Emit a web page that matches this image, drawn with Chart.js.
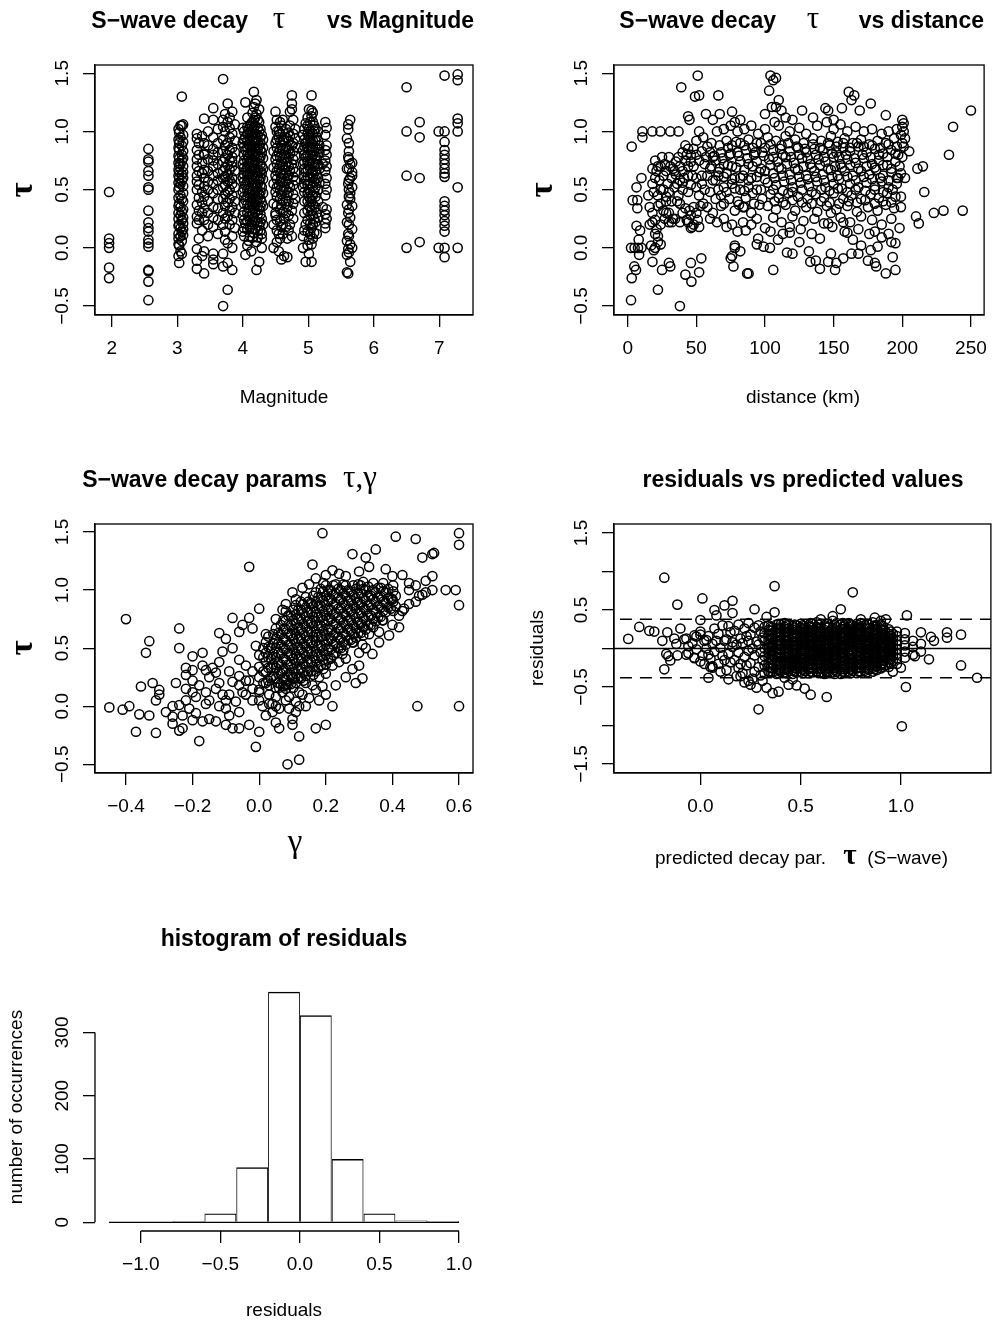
<!DOCTYPE html>
<html>
<head>
<meta charset="utf-8">
<script src="https://cdn.jsdelivr.net/npm/chart.js@4.4.1/dist/chart.umd.min.js"></script>
<style>
html, body { margin: 0; padding: 0; background: #fff; }
#page { position: relative; width: 997px; height: 1321px; }
#page canvas { position: absolute; left: 0; top: 0; }
</style>
</head>
<body>
<div id="page">
	<canvas id="magChart" width="997" height="1321"></canvas>
	<canvas id="distChart" width="997" height="1321"></canvas>
	<canvas id="gammaChart" width="997" height="1321"></canvas>
	<canvas id="residChart" width="997" height="1321"></canvas>
	<canvas id="histChart" width="997" height="1321"></canvas>
</div>
<script>
// tau vs magnitude, grouped by magnitude value
var magCols = [
	[1.96, [0.48, 0.08, 0.04, 0.0, -0.17, -0.26]],
	[2.56, [0.85, 0.76, 0.74, 0.66, 0.62, 0.52, 0.5, 0.32, 0.22, 0.17, 0.14, 0.07, 0.04, 0.01, -0.19, -0.2, -0.29, -0.45]],
	[3.02, [1.02, 0.93, 0.86, 0.79, 0.73, 0.67, 0.62, 0.56, 0.5, 0.43, 0.36, 0.3, 0.25, 0.19, 0.12, 0.08, 0.03, -0.07]],
	[3.03, [0.99, 0.9, 0.77, 0.7, 0.6, 0.52, 0.38, 0.2, 0.02, -0.13, 0.84, 0.65]],
	[3.05, [1.05, 0.95, 0.72, 0.55, 0.35, 0.17, -0.03, 0.45, 0.28, 0.1]],
	[3.07, [1.3, 1.05, 0.88, 0.75, 0.58, 0.42, 0.31, 0.14, -0.05, 0.8, 0.63, 0.24, 0.06]],
	[3.09, [1.06, 0.97, 0.91, 0.83, 0.77, 0.7, 0.65, 0.6, 0.53, 0.47, 0.4, 0.33, 0.26, 0.21, 0.16, 0.11]],
	[3.3, [0.98, 0.94, 0.84, 0.76, 0.7, 0.62, 0.57, 0.5, 0.37, 0.27, 0.21, -0.01, -0.11, -0.18]],
	[3.33, [0.9, 0.8, 0.66, 0.54, 0.43, 0.32, 0.24, 0.08]],
	[3.38, [0.96, 0.73, 0.64, 0.48, 0.39, 0.3, 0.15, -0.07]],
	[3.41, [1.11, 0.9, 0.81, 0.67, 0.53, 0.44, 0.34, 0.24, -0.03, -0.22, 0.8, 0.6]],
	[3.47, [1.0, 0.88, 0.76, 0.66, 0.57, 0.5, 0.4, 0.3, 0.2, 0.1]],
	[3.55, [1.2, 1.1, 0.95, 0.8, 0.7, 0.62, 0.55, 0.47, 0.35, 0.26, 0.18, -0.05, -0.1, -0.14, 0.85, 0.75]],
	[3.62, [1.02, 0.9, 0.82, 0.72, 0.64, 0.58, 0.5, 0.42, 0.34, 0.24, 0.12]],
	[3.7, [1.45, 1.1, 1.04, 0.93, 0.74, 0.66, 0.52, 0.3, 0.2, -0.05, -0.5, -0.16, 0.83, 0.42, 0.6]],
	[3.73, [1.15, 1.0, 0.88, 0.77, 0.69, 0.61, 0.54, 0.46, 0.36, 0.25, 0.14, 0.07]],
	[3.77, [1.24, 1.08, 0.9, 0.8, 0.71, 0.63, 0.57, 0.48, 0.39, 0.27, 0.04, -0.13, -0.36]],
	[3.8, [1.12, 1.03, 0.95, 0.84, 0.75, 0.67, 0.58, 0.5, 0.42, 0.32, 0.2]],
	[3.84, [1.17, 0.98, 0.86, 0.78, 0.7, 0.6, 0.55, 0.45, 0.35, 0.24, 0.1, 0.0, -0.19, 0.74]],
	[3.88, [1.06, 0.92, 0.82, 0.66, 0.52, 0.4, 0.3, 0.17]],
	[4.0, [1.03, 0.9, 0.72, 0.6, 0.48, 0.28, 0.14]],
	[4.02, [1.0, 0.93, 0.87, 0.8, 0.75, 0.69, 0.63, 0.57, 0.51, 0.44, 0.38, 0.31, 0.24, 0.17, 0.1]],
	[4.04, [1.25, 0.95, 0.84, 0.66, 0.54, 0.41, 0.21, -0.06]],
	[4.07, [1.12, 1.04, 0.98, 0.92, 0.86, 0.8, 0.75, 0.69, 0.63, 0.57, 0.5, 0.44, 0.37, 0.3, 0.23, 0.16, 0.02]],
	[4.09, [1.02, 0.89, 0.78, 0.72, 0.6, 0.47, 0.34, 0.27, 0.06]],
	[4.11, [1.05, 0.99, 0.93, 0.87, 0.81, 0.75, 0.69, 0.63, 0.57, 0.5, 0.43, 0.37, 0.3, 0.24, 0.17, 0.1]],
	[4.13, [1.07, 0.96, 0.84, 0.66, 0.53, 0.4, 0.2, -0.03]],
	[4.15, [1.16, 1.08, 1.01, 0.94, 0.87, 0.81, 0.75, 0.68, 0.62, 0.56, 0.49, 0.43, 0.37, 0.3, 0.22, 0.16, 0.09]],
	[4.17, [1.34, 1.21, 1.1, 1.03, 0.9, 0.78, 0.71, 0.59, 0.46, 0.34, 0.26, 0.13]],
	[4.19, [1.24, 1.12, 1.05, 0.98, 0.92, 0.86, 0.8, 0.74, 0.68, 0.62, 0.55, 0.49, 0.43, 0.37, 0.31, 0.23, 0.16]],
	[4.21, [1.27, 1.15, 0.94, 0.83, 0.65, 0.52, 0.4, 0.05, -0.19]],
	[4.23, [1.1, 1.03, 0.97, 0.91, 0.85, 0.79, 0.73, 0.67, 0.61, 0.55, 0.49, 0.43, 0.36, 0.29, 0.22, 0.15, 0.09]],
	[4.25, [1.19, 1.08, 1.0, 0.88, 0.77, 0.58, 0.46, 0.33, 0.19, -0.12]],
	[4.27, [1.02, 0.95, 0.9, 0.84, 0.78, 0.72, 0.66, 0.6, 0.54, 0.48, 0.42, 0.35, 0.29, 0.22, 0.15]],
	[4.29, [0.97, 0.82, 0.7, 0.64, 0.52, 0.39, 0.25, 0.12, 0.08, 0.0]],
	[4.31, [0.93, 0.86, 0.77, 0.68, 0.59, 0.47, 0.36, 0.2]],
	[4.47, [0.83, 0.69, 0.55, 0.38, 0.2, 0.0]],
	[4.5, [1.17, 1.04, 0.9, 0.76, 0.62, 0.48, 0.28, 0.3]],
	[4.52, [1.1, 1.0, 0.93, 0.86, 0.79, 0.72, 0.66, 0.59, 0.52, 0.44, 0.36, 0.24, 0.15, 0.05]],
	[4.55, [1.0, 0.95, 0.82, 0.68, 0.54, 0.12, -0.03]],
	[4.57, [1.08, 0.98, 0.91, 0.85, 0.78, 0.71, 0.64, 0.57, 0.5, 0.42, 0.33, 0.23, 0.08]],
	[4.59, [1.05, 0.88, 0.74, 0.6, 0.46, 0.37, 0.18, -0.1]],
	[4.61, [1.1, 1.0, 0.92, 0.85, 0.77, 0.7, 0.63, 0.56, 0.49, 0.41, 0.31, 0.2, 0.12]],
	[4.63, [0.93, 0.8, 0.67, 0.52, 0.25, -0.07]],
	[4.66, [1.02, 0.95, 0.84, 0.77, 0.7, 0.64, 0.57, 0.5, 0.4, 0.3, 0.18]],
	[4.68, [0.87, 0.74, 0.6, 0.45, 0.35, 0.08, -0.08]],
	[4.7, [0.99, 0.92, 0.84, 0.78, 0.7, 0.62, 0.55, 0.48, 0.4, 0.28, 0.15]],
	[4.72, [1.17, 1.05, 0.96, 0.81, 0.66, 0.52, 0.2]],
	[4.75, [1.31, 1.24, 1.19, 0.88, 0.72, 0.32, 0.1]],
	[4.77, [1.1, 0.98, 0.9, 0.83, 0.76, 0.68, 0.61, 0.54, 0.46, 0.38, 0.25]],
	[4.8, [1.02, 0.94, 0.79, 0.65, 0.58, 0.42]],
	[4.84, [0.86]],
	[4.92, [0.97, 0.84, 0.72, 0.52, 0.1, 0.0]],
	[4.94, [1.02, 0.93, 0.87, 0.8, 0.74, 0.68, 0.61, 0.55, 0.48, 0.4, 0.3, 0.15]],
	[4.96, [1.07, 0.9, 0.78, 0.65, 0.58, 0.2, -0.12]],
	[4.99, [1.12, 1.05, 0.98, 0.92, 0.86, 0.8, 0.74, 0.67, 0.61, 0.54, 0.47, 0.4, 0.32, 0.24, 0.14, 0.02]],
	[5.01, [1.19, 1.02, 0.96, 0.84, 0.71, 0.5, 0.44, 0.36, 0.07, -0.05]],
	[5.03, [1.08, 1.0, 0.93, 0.87, 0.8, 0.74, 0.68, 0.61, 0.55, 0.48, 0.42, 0.35, 0.28, 0.21, 0.12]],
	[5.05, [1.31, 1.18, 1.13, 0.9, 0.77, 0.64, 0.4, 0.32, 0.17, 0.03, -0.12]],
	[5.07, [1.16, 1.08, 0.98, 0.92, 0.86, 0.8, 0.73, 0.66, 0.6, 0.53, 0.45, 0.37, 0.28, 0.2, 0.08]],
	[5.09, [1.05, 1.0, 0.83, 0.7, 0.57, 0.48, 0.25, 0.13]],
	[5.11, [1.02, 0.92, 0.86, 0.79, 0.72, 0.66, 0.59, 0.52, 0.44, 0.35, 0.22]],
	[5.13, [0.95, 0.76, 0.63, 0.3, 0.12]],
	[5.15, [1.0, 0.92, 0.85, 0.72, 0.6, 0.5, 0.4, 0.26]],
	[5.17, [0.88, 0.82, 0.68, 0.56]],
	[5.22, [0.72, 0.35]],
	[5.26, [1.08, 0.97, 0.84, 0.75, 0.66, 0.55, 0.45, 0.29, 0.21, 0.17]],
	[5.28, [1.03, 0.88, 0.8, 0.7, 0.6, 0.5, 0.33, 0.25]],
	[5.59, [0.94, 0.68, 0.37, 0.22, 0.06, -0.06, -0.21]],
	[5.61, [1.06, 1.02, 0.78, 0.55, 0.3, 0.12, -0.01, -0.22]],
	[5.62, [0.9, 0.83, 0.76, 0.68, 0.58, 0.5, 0.44, 0.33, 0.2, 0.1, -0.04]],
	[5.64, [1.1, 0.72, 0.6, 0.47, 0.42, 0.26, 0.03, -0.12]],
	[5.67, [0.73, 0.65, 0.62, 0.52, 0.36, 0.16, 0.0]],
	[6.5, [1.38, 1.0, 0.62, 0.0]],
	[6.7, [1.08, 0.95, 0.6, 0.05]],
	[6.99, [1.0, 0.0]],
	[7.08, [1.0, 0.91, 0.84, 0.8, 0.76, 0.72, 0.68, 0.64, 0.61, 0.4, 0.36, 0.32, 0.28, 0.23, 0.19, 0.14, 0.0, -0.08, 1.48]],
	[7.28, [1.49, 1.44, 1.11, 1.07, 1.0, 0.52, 0.0]]
];

// tau vs hypocentral distance (km)
var distPts = [
	[2.4,-0.45],[2.9,-0.26],[2.9,0.87],[3.6,0.41],[2.4,0],[5,0],[7.5,0],[10,0],[4.8,-0.16],[6,-0.19],[7,0.41],[7,0.34],
	[6.4,0.19],[6.4,0.52],[9,0.15],[8,0.07],[8.3,-0.06],[10,0.6],[10.7,0.95],[10.7,1.0],[17.9,1.0],[23.8,1.0],[31,1.0],
	[37,1.0],[39,1.38],[38,-0.5],[22,-0.36],[18,-0.12],[25,-0.19],[30,-0.13],[31,-0.16],[42,-0.23],[46.4,-0.29],[46,-0.13],
	[52,-0.21],[53.6,-0.09],[51,1.48],[49,1.3],[52,1.31],[66,1.31],[57,1.15],[45,1.1],[44,1.13],[76,1.17],[82,1.1],[67,1.15],[62,1.1],
	[20,0.75],[22,0.7],[25,0.78],[27,0.72],[30,0.78],[33,0.68],[35,0.74],[38,0.7],[40,0.82],[42,0.75],[44,0.7],[18,0.55],
	[20,0.6],[23,0.58],[26,0.62],[29,0.55],[32,0.6],[35,0.63],[38,0.58],[41,0.6],[44,0.62],[22,0.45],[26,0.5],[30,0.48],
	[34,0.52],[37,0.45],[16,0.35],[18,0.3],[20,0.24],[22,0.36],[26,0.32],[30,0.3],[33,0.25],[36,0.4],[40,0.3],[16,0.2],
	[18,0.22],[20,0.12],[21,0.16],[22,0.1],[24,0.2],[27,0.25],[30,0.22],[17,0.02],[19,-0.02],[20,0],[22,0.05],[24,0.03],
	[28,0.3],[32,0.22],[44,0.22],[48,0.35],[46,0.28],[48,0.2],[43,0.8],[42,0.88],[48,0.85],[50,0.92],[52,1.0],[55,0.95],
	[58,0.87],[60,0.82],[62,0.78],[48,0.7],[52,0.75],[56,0.72],[60,0.68],[64,0.75],[50,0.6],[54,0.55],[58,0.62],[62,0.58],
	[66,0.65],[52,0.45],[56,0.5],[60,0.48],[64,0.42],[58,0.35],[62,0.3],[68,0.36],[65,0.22],[70,0.25],[60,0.25],[55,0.38],
	[34.5,0.25],[43,0.24],[46,0.17],[47,0.18],[51,0.24],[44,0.85],[46,0.8],[47,0.62],[40,0.5],[44,0.48],[38,0.38],[42,0.34],
	[45,0.32],[50,0.3],[53,0.36],[38,0.22],[52,0.18],
	[18,0.68],[21,0.66],[24,0.7],[28,0.66],[31,0.7],[34,0.66],[37,0.78],[40,0.66],[46,0.74],[50,0.8],[54,0.83],[57,0.78],
	[24,0.5],[28,0.44],[32,0.4],[36,0.55],[40,0.56],[46,0.54],[50,0.52],[54,0.62],[15,0.45],[19,0.48],[24,0.38],[28,0.4],
	[65,1.0],[70,1.02],[75,1.05],[78,1.08],[80,1.0],[85,1.02],[90,1.05],[95,0.98],[72,0.92],[76,0.88],[82,0.9],[88,0.93],
	[94,0.9],[68,0.82],[74,0.8],[80,0.82],[86,0.84],[92,0.8],[98,0.82],[70,0.72],[76,0.7],[82,0.74],[88,0.72],[94,0.74],
	[66,0.62],[72,0.64],[78,0.6],[84,0.62],[90,0.6],[96,0.65],[70,0.52],[76,0.55],[82,0.5],[88,0.52],[94,0.5],[74,0.42],
	[80,0.4],[86,0.43],[92,0.38],[98,0.42],[78,0.32],[84,0.35],[90,0.3],[72,0.18],[76,0.2],[84,0.22],[90,0.2],[94,0.25],
	[80,0.14],[86,0.15],[95,0.08],[78,0],[82,-0.03],[76,-0.07],[88,-0.22],[100,0.17],[94,0.03],[85,0.35],[68,0.45],
	[75,-0.09],[77,-0.16],[78,0.02],[87,-0.22],
	[104,1.48],[106,1.44],[108,1.46],[103,1.35],[110,1.27],[105,1.21],[108,1.21],[112,1.18],[100,1.15],[115,1.12],[107,1.08],
	[127,1.18],[144,1.2],[146,1.18],[156,1.2],[161,1.34],[165,1.31],[163,1.27],[177,1.24],[188,1.14],[169,1.18],[135,1.12],
	[150,1.1],[120,1.1],
	[200,1.1],[201,1.07],[200,1.04],[201,1.0],[199,0.97],[202,0.94],[200,0.9],[201,0.87],[205,0.83],[199,0.64],[202,0.6],
	[199,0.44],[199,0.35],[198,0.17],[192,0.05],[195,0.04],[193,-0.08],[195,-0.19],[188,-0.22],[211,0.68],[215,0.7],
	[216,0.48],[210,0.27],[212,0.21],[223,0.3],[230,0.32],[244,0.32],[234,0.8],[237,1.04],[250,1.18],
	[103.6,0],[106,-0.19],[99,0.01],[116,-0.04],[113,0.12],[118,0.18],[109.5,0.07],[132,-0.03],[133,-0.12],[137,-0.11],
	[140,-0.18],[146,-0.12],[151,-0.19],[152,-0.13],[157,-0.09],[163,-0.05],[168,-0.05],[175,-0.11],[180,-0.13],[181,-0.16],
	[177,-0.02],[182,0.01],[176,0.12],[185,0.09],[164,0.07],[148,-0.05],[149,0.18],[148,0.3],[146,0.21],[157,0.22],
	[158,0.14],[125,0.05],[140,0.08],[170,0.02],[120,-0.05],
	[100,1.02],[110,1.05],[118,1.0],[125,1.03],[130,0.98],[138,1.05],[145,1.08],[150,1.02],[155,1.06],[160,1.0],[166,1.04],
	[172,1.0],[178,1.02],[185,0.98],[190,1.0],[196,1.02],
	[102,0.95],[108,0.92],[115,0.96],[122,0.93],[128,0.9],[135,0.94],[141,0.92],[148,0.96],[153,0.91],[158,0.94],[164,0.9],
	[170,0.93],[176,0.89],[182,0.92],[188,0.9],[194,0.94],
	[61,0.9],[67,0.88],[73,0.86],[79,0.91],[85,0.88],[91,0.86],[97,0.9],[104,0.89],[111,0.85],[117,0.9],[123,0.87],[129,0.85],
	[135,0.89],[140,0.86],[146,0.9],[152,0.87],[157,0.9],[162,0.86],[167,0.9],[172,0.87],[178,0.88],[184,0.86],[190,0.89],[196,0.87],
	[100,0.86],[106,0.84],[112,0.88],[118,0.83],[124,0.86],[130,0.82],[136,0.85],[142,0.84],[147,0.88],[152,0.82],[157,0.86],
	[162,0.83],[168,0.87],[174,0.82],[180,0.85],[186,0.81],[192,0.84],[197,0.8],
	[63,0.79],[69,0.77],[75,0.81],[81,0.79],[87,0.77],[93,0.82],[99,0.79],[106,0.78],[113,0.8],[119,0.78],[125,0.8],[131,0.77],
	[137,0.8],[143,0.78],[149,0.81],[154,0.78],[159,0.8],[165,0.77],[171,0.8],[177,0.78],[183,0.8],[189,0.78],[195,0.81],[200,0.78],
	[103,0.76],[109,0.74],[115,0.78],[121,0.73],[127,0.77],[133,0.72],[139,0.76],[144,0.74],[150,0.78],[155,0.72],[160,0.76],
	[166,0.73],[172,0.77],[178,0.72],[183,0.75],[189,0.71],[195,0.74],
	[61,0.7],[67,0.68],[73,0.71],[79,0.69],[85,0.67],[91,0.7],[97,0.68],[104,0.71],[110,0.69],[116,0.72],[122,0.68],[128,0.7],
	[134,0.69],[140,0.71],[146,0.68],[151,0.7],[156,0.69],[162,0.71],[168,0.68],[174,0.7],[180,0.69],[186,0.71],[192,0.68],[198,0.7],
	[100,0.66],[106,0.64],[112,0.68],[118,0.63],[124,0.67],[130,0.62],[136,0.66],[142,0.63],[148,0.67],[153,0.62],[158,0.66],
	[164,0.62],[170,0.66],[176,0.63],[181,0.67],[186,0.62],[192,0.65],[197,0.6],
	[64,0.58],[70,0.61],[76,0.59],[82,0.6],[88,0.58],[94,0.61],[100,0.59],[107,0.6],[113,0.62],[119,0.58],[125,0.61],[131,0.59],
	[137,0.61],[143,0.58],[149,0.61],[154,0.59],[160,0.61],[166,0.58],[172,0.61],[178,0.59],[184,0.6],[190,0.58],[196,0.6],
	[102,0.56],[108,0.54],[114,0.57],[120,0.52],[126,0.56],[132,0.53],[138,0.57],[144,0.52],[150,0.55],[156,0.51],[162,0.55],
	[168,0.52],[174,0.56],[180,0.53],[185,0.57],[190,0.52],[196,0.55],
	[66,0.5],[72,0.48],[78,0.51],[85,0.49],[91,0.47],[97,0.5],[106,0.5],[113,0.49],[120,0.48],[127,0.5],[134,0.48],[141,0.5],
	[147,0.49],[153,0.51],[160,0.48],[166,0.5],[173,0.49],[180,0.5],[186,0.48],[193,0.5],
	[104,0.46],[110,0.43],[117,0.47],[124,0.44],[131,0.42],[137,0.46],[143,0.43],[150,0.47],[157,0.42],[163,0.45],[170,0.42],
	[177,0.46],[183,0.43],[189,0.47],[195,0.44],
	[70,0.38],[81,0.37],[96,0.37],[107,0.4],[113,0.39],[120,0.41],[127,0.39],[134,0.38],[141,0.4],[147,0.39],[154,0.38],
	[161,0.4],[167,0.39],[173,0.41],[180,0.38],[186,0.4],[192,0.39],
	[102,0.36],[108,0.33],[115,0.37],[122,0.32],[130,0.35],[138,0.31],[145,0.36],[152,0.33],[160,0.36],[167,0.31],[175,0.35],
	[182,0.32],[188,0.37],[194,0.34],
	[106,0.26],[112,0.22],[120,0.27],[128,0.23],[136,0.25],[143,0.21],[155,0.26],[162,0.22],[170,0.27],[178,0.24],[185,0.2],
	[192,0.25],[104,0.14],[118,0.13],[126,0.16],[134,0.12],[160,0.13],[168,0.16],[180,0.14],[190,0.12]
];

// tau vs gamma: scattered points, then the dense core by gamma column
var gammaPts = [
	[-0.4,0.75],[-0.45,-0.01],[-0.41,-0.03],[-0.39,0.0],[-0.37,-0.22],[-0.36,-0.07],[-0.33,-0.08],[-0.31,-0.23],[-0.355,0.17],
	[-0.34,0.46],[-0.33,0.56],[-0.32,0.2],[-0.3,0.14],[-0.3,0.1],[-0.31,0.05],[-0.26,-0.09],[-0.26,-0.15],[-0.25,0.2],
	[-0.24,0.67],[-0.24,0.5],[-0.24,-0.21],[-0.23,-0.19],[-0.22,0.33],[-0.22,0.27],[-0.2,0.43],[-0.2,0.31],[-0.17,0.46],
	[-0.17,0.35],[-0.16,0.31],[-0.15,0.25],[-0.13,0.29],[-0.24,0.01],[-0.22,0.05],[-0.21,-0.02],[-0.2,0.12],[-0.19,-0.06],
	[-0.17,-0.13],[-0.16,0.02],[-0.15,-0.11],[-0.13,-0.13],[-0.18,-0.3],[-0.12,0.63],[-0.1,0.58],[-0.11,0.47],[-0.08,0.76],
	[-0.06,0.64],[-0.08,0.5],[-0.06,0.4],[-0.03,1.2],[-0.03,0.76],[-0.02,0.67],[0.0,0.84],[-0.13,0.15],[-0.11,0.1],
	[-0.1,-0.02],[-0.09,0.1],[-0.08,0.21],[-0.07,0.04],[-0.05,0.12],[-0.04,0.22],[-0.1,-0.16],[-0.08,-0.19],[-0.06,-0.19],
	[-0.03,-0.16],[-0.01,-0.35],[0.0,-0.22],[0.01,0.0],[0.03,0.1],[0.04,-0.05],[0.05,-0.14],[0.06,-0.19],[0.085,-0.5],
	[0.12,-0.46],[0.12,-0.26],[0.1,-0.16],[0.1,-0.11],[0.09,-0.02],[0.12,0.0],[0.11,-0.05],[0.17,-0.19],[0.2,-0.16],
	[0.22,0.0],[0.29,0.2],[0.31,0.24],[0.475,0.0],[0.6,0.0],[0.6,0.87],[0.6,1.39],[0.6,1.49],[0.41,1.46],[0.47,1.44],
	[0.19,1.49],[0.52,1.31],[0.525,1.32],[0.49,1.28],[0.35,1.35],[0.28,1.31],[0.32,1.28],[0.16,1.22],[0.56,1.0],[0.59,1.0],
	[0.52,1.0],[0.49,0.96],[0.43,0.82],[0.435,0.84],[0.39,0.61],[0.36,0.64],[0.32,0.5],[0.31,0.53],[0.3,0.46],[0.26,0.41],
	[0.24,0.38],[0.19,0.17],[0.17,0.14],[0.16,0.18],[0.2,1.13],[0.22,1.17],[0.24,1.14],[0.26,1.12],[0.3,1.16],[0.33,1.2],
	[0.38,1.18],[0.4,1.12],[0.43,1.13],[0.45,1.06],[0.47,1.04],[0.5,1.08],[0.52,1.12],[0.45,1.0],[0.48,0.95],[0.4,0.92],
	[0.42,0.78],[0.37,0.74],[0.33,0.62],[0.28,0.55],[0.25,0.45],[0.22,0.35],[0.2,0.28],[0.18,0.25],[0.14,0.2],[0.12,0.12],
	[0.08,0.05],[0.05,0.08],[0.03,0.18],[-0.02,0.3],[-0.04,0.35],[-0.06,0.26],[-0.01,0.52],[0.02,0.62],[0.05,0.75],
	[0.08,0.88],[0.1,0.98],[0.13,1.02],[0.15,1.05],[0.11,0.92],[0.07,0.83],[0.17,1.1],[-0.05,0.7],[0.0,0.05],[0.02,-0.08],
	[0.06,-0.02],[0.04,0.02],[-0.12,0.38],[-0.14,0.33],[-0.18,0.18],[-0.2,0.22],[-0.22,0.15],[-0.19,0.08],[-0.26,0.0],
	[-0.28,-0.05],[-0.23,-0.08],[-0.2,-0.12],[-0.15,0.05],[-0.12,0.0],[-0.09,-0.08],[-0.06,-0.05],[-0.04,0.1],[-0.02,0.15],
	[0.08,0.18],[0.1,0.25],[0.07,0.3],
	[-0.02,0.05],[0.0,0.12],[0.03,0.02],[0.05,0.0],[0.07,0.12],[0.09,0.08],[0.11,0.04],[0.13,0.1],[0.15,0.07],[0.06,0.16],
	[-0.03,0.22],[-0.06,0.18],[-0.09,0.3],[-0.12,0.2],[-0.16,0.12],[-0.1,0.05],[0.14,0.0],[0.18,0.05],[0.2,0.1],[0.23,0.18],
	[0.26,0.25],[0.28,0.32],[0.3,0.35],[0.34,0.45],[0.36,0.55],[0.4,0.7],[0.42,0.68],[0.45,0.88],[0.47,0.9],[0.5,0.98]
];
var gammaCore = [
	[0.0, [0.14, 0.25, 0.34, 0.44]],
	[0.0125, [0.2, 0.3, 0.42, 0.5]],
	[0.02, [0.2, 0.29, 0.38, 0.46, 0.55]],
	[0.0275, [0.22, 0.33, 0.42, 0.51, 0.6]],
	[0.035, [0.24, 0.33, 0.41, 0.5]],
	[0.0425, [0.26, 0.36, 0.45, 0.54, 0.62]],
	[0.05, [0.16, 0.24, 0.33, 0.42, 0.5, 0.58, 0.67]],
	[0.0575, [0.2, 0.28, 0.37, 0.46, 0.54, 0.63]],
	[0.065, [0.19, 0.28, 0.36, 0.45, 0.53, 0.62, 0.7]],
	[0.0725, [0.17, 0.24, 0.32, 0.41, 0.5, 0.58, 0.66, 0.74]],
	[0.08, [0.15, 0.23, 0.32, 0.4, 0.49, 0.57, 0.66, 0.74, 0.82]],
	[0.0875, [0.19, 0.27, 0.36, 0.45, 0.53, 0.62, 0.7, 0.78]],
	[0.095, [0.19, 0.27, 0.36, 0.44, 0.53, 0.61, 0.7, 0.78]],
	[0.1025, [0.16, 0.24, 0.32, 0.41, 0.49, 0.58, 0.66, 0.74, 0.83]],
	[0.11, [0.2, 0.28, 0.37, 0.45, 0.54, 0.62, 0.71, 0.79, 0.87]],
	[0.1175, [0.24, 0.32, 0.41, 0.5, 0.58, 0.67, 0.75, 0.83]],
	[0.125, [0.24, 0.32, 0.41, 0.49, 0.58, 0.66, 0.75, 0.83, 0.9]],
	[0.1325, [0.22, 0.29, 0.37, 0.46, 0.54, 0.63, 0.71, 0.8, 0.88]],
	[0.14, [0.26, 0.34, 0.43, 0.51, 0.6, 0.68, 0.77, 0.85, 0.94]],
	[0.1475, [0.3, 0.38, 0.47, 0.56, 0.64, 0.73, 0.81, 0.9]],
	[0.155, [0.3, 0.38, 0.47, 0.55, 0.64, 0.72, 0.81, 0.89]],
	[0.1625, [0.27, 0.34, 0.43, 0.52, 0.6, 0.69, 0.77, 0.86, 0.95]],
	[0.17, [0.3, 0.39, 0.47, 0.56, 0.64, 0.73, 0.81, 0.9, 0.98]],
	[0.1775, [0.34, 0.43, 0.52, 0.6, 0.69, 0.77, 0.86, 0.94]],
	[0.185, [0.35, 0.43, 0.52, 0.6, 0.69, 0.77, 0.86, 0.94, 1.01]],
	[0.1925, [0.32, 0.4, 0.48, 0.57, 0.65, 0.74, 0.82, 0.91, 0.99, 1.06]],
	[0.2, [0.36, 0.44, 0.53, 0.61, 0.7, 0.78, 0.87, 0.95, 1.04]],
	[0.2075, [0.4, 0.49, 0.57, 0.66, 0.74, 0.83, 0.91, 1.0]],
	[0.215, [0.41, 0.49, 0.58, 0.66, 0.75, 0.83, 0.92, 1.0]],
	[0.2225, [0.44, 0.53, 0.61, 0.7, 0.79, 0.87, 0.96, 1.04]],
	[0.23, [0.46, 0.54, 0.63, 0.71, 0.8, 0.88, 0.97, 1.05]],
	[0.2375, [0.5, 0.59, 0.67, 0.76, 0.84, 0.93, 1.01]],
	[0.245, [0.5, 0.58, 0.67, 0.75, 0.84, 0.92, 1.0]],
	[0.2525, [0.48, 0.55, 0.63, 0.72, 0.8, 0.89, 0.97, 1.05]],
	[0.26, [0.53, 0.61, 0.7, 0.78, 0.87, 0.95, 1.04]],
	[0.2675, [0.57, 0.66, 0.74, 0.83, 0.91, 1.0]],
	[0.275, [0.57, 0.65, 0.74, 0.82, 0.91, 0.99]],
	[0.2825, [0.55, 0.62, 0.7, 0.79, 0.87, 0.96, 1.04]],
	[0.29, [0.59, 0.67, 0.76, 0.84, 0.93, 1.01]],
	[0.2975, [0.63, 0.72, 0.8, 0.89, 0.97, 1.05]],
	[0.305, [0.63, 0.71, 0.8, 0.88, 0.97, 1.04]],
	[0.3125, [0.61, 0.68, 0.76, 0.85, 0.93, 1.01, 1.07]],
	[0.32, [0.66, 0.74, 0.83, 0.91, 1.0]],
	[0.3275, [0.7, 0.78, 0.87, 0.95, 1.03]],
	[0.335, [0.7, 0.78, 0.87, 0.95]],
	[0.3425, [0.68, 0.75, 0.83, 0.92, 1.0, 1.06]],
	[0.35, [0.73, 0.81, 0.9, 0.98]],
	[0.3575, [0.77, 0.86, 0.94, 1.02]],
	[0.365, [0.77, 0.85, 0.94, 1.02]],
	[0.3725, [0.74, 0.82, 0.9, 0.99, 1.06]],
	[0.38, [0.81, 0.89, 0.98]],
	[0.3875, [0.85, 0.93, 1.01]],
	[0.395, [0.84, 0.93]],
	[0.4025, [0.82, 0.9, 0.99, 1.04]],
	[0.41, [0.86, 0.95]]
];

// residuals vs predicted tau: scattered points, the left cloud, then the dense band by column
var residPts = [
	[-0.36,0.125],[-0.305,0.28],[-0.255,0.23],[-0.23,0.22],[-0.19,0.1],[-0.18,0.92],[-0.165,0.21],[-0.13,0.13],[-0.12,0.06],
	[-0.18,-0.27],[-0.17,-0.07],[-0.16,-0.1],[-0.15,-0.155],[-0.115,-0.09],[-0.115,0.57],[-0.1,0.26],[-0.07,0.13],
	[-0.06,-0.06],[-0.03,-0.125],[-0.02,0.155],[0.0,0.22],[0.0,0.37],[0.01,0.65],[0.0,-0.17],[0.03,0.11],[0.04,-0.38],
	[0.05,-0.24],[0.06,-0.23],[0.07,0.5],[0.08,0.43],[0.12,0.56],[0.16,0.62],[0.16,0.46],[0.27,0.51],[0.29,-0.79],
	[0.37,0.81],[0.37,0.47],[0.33,0.41],[0.25,-0.47],[0.28,-0.51],[0.33,-0.51],[0.36,-0.58],[0.39,-0.56],[0.44,-0.47],
	[0.48,-0.48],[0.52,-0.52],[0.55,-0.6],[0.63,-0.63],[0.7,0.51],[0.76,0.73],[0.8,0.38],[0.925,0.38],[1.03,0.43],
	[1.025,-0.5],[1.005,-1.01],[1.14,-0.14],[1.23,0.21],[1.23,0.14],[1.3,0.18],[1.3,-0.22],[1.38,-0.38],[1.1,0.21],
	[1.15,0.15],[1.165,0.1],[1.07,-0.1],[1.0,-0.25],[0.96,-0.3],[0.42,-0.38],[0.46,-0.4],[0.2,-0.36],[0.24,-0.42],
	[0.31,-0.42],[0.6,0.38],[0.66,0.42],[0.87,0.4],[0.9,0.36]
];
var residLeft = [
	[-0.07,-0.08],[-0.06,0.03],[-0.08,0.12],[-0.03,-0.12],[-0.02,-0.01],[-0.04,0.07],[-0.03,0.17],[0.02,-0.2],[0.01,-0.09],
	[0.03,0.0],[0.02,0.1],[0.0,0.18],[0.06,-0.25],[0.05,-0.13],[0.07,-0.04],[0.06,0.06],[0.04,0.16],[0.07,0.26],[0.1,-0.3],
	[0.09,-0.2],[0.11,-0.09],[0.1,0.01],[0.12,0.1],[0.09,0.19],[0.11,0.3],[0.14,-0.4],[0.13,-0.28],[0.15,-0.18],[0.14,-0.07],
	[0.16,0.02],[0.13,0.12],[0.15,0.21],[0.14,0.29],[0.18,-0.36],[0.19,-0.25],[0.17,-0.15],[0.19,-0.05],[0.18,0.05],[0.2,0.13],
	[0.17,0.23],[0.19,0.31],[0.22,-0.44],[0.21,-0.32],[0.23,-0.22],[0.22,-0.11],[0.24,-0.03],[0.21,0.07],[0.23,0.16],[0.22,0.26],
	[0.24,0.33],[0.26,-0.39],[0.27,-0.3],[0.25,-0.19],[0.27,-0.09],[0.26,0.0],[0.28,0.09],[0.25,0.18],[0.27,0.27],[0.3,-0.35],
	[0.29,-0.24],[0.31,-0.15],[0.3,-0.05],[0.29,0.05],[0.31,0.14],[0.3,0.22],[0.29,0.3],[0.12,-0.15],[0.16,0.08],[0.2,-0.2],
	[0.24,0.1],[0.08,0.1],[0.04,-0.08]
];
var residCols = [
	[0.32, [-0.32, -0.22, -0.1, 0.0, 0.1, 0.2, 0.28]],
	[0.34, [-0.3, -0.24, -0.19, -0.12, -0.06, 0.0, 0.05, 0.11, 0.17, 0.24, 0.3]],
	[0.35, [-0.3, -0.25, -0.2, -0.14, -0.08, -0.03, 0.02, 0.07, 0.12, 0.17, 0.23, 0.28]],
	[0.36, [-0.31, -0.26, -0.21, -0.15, -0.09, -0.03, 0.03, 0.08, 0.14, 0.2, 0.27]],
	[0.38, [-0.33, -0.27, -0.22, -0.17, -0.11, -0.06, -0.01, 0.04, 0.09, 0.14, 0.2, 0.25, 0.31]],
	[0.39, [-0.32, -0.28, -0.21, -0.16, -0.11, -0.05, 0.0, 0.06, 0.11, 0.17, 0.22, 0.27, 0.32]],
	[0.4, [-0.3, -0.25, -0.19, -0.13, -0.08, -0.02, 0.04, 0.1, 0.15, 0.2, 0.26, 0.31]],
	[0.42, [-0.31, -0.26, -0.2, -0.15, -0.1, -0.04, 0.01, 0.06, 0.12, 0.17, 0.22, 0.28, 0.33]],
	[0.43, [-0.32, -0.27, -0.22, -0.17, -0.12, -0.06, -0.01, 0.04, 0.09, 0.14, 0.2, 0.25, 0.3]],
	[0.44, [-0.29, -0.24, -0.18, -0.12, -0.07, -0.01, 0.05, 0.1, 0.15, 0.21, 0.26, 0.31]],
	[0.46, [-0.33, -0.28, -0.23, -0.18, -0.13, -0.08, -0.03, 0.03, 0.08, 0.13, 0.19, 0.24, 0.29]],
	[0.47, [-0.3, -0.25, -0.21, -0.16, -0.11, -0.06, 0.0, 0.05, 0.1, 0.16, 0.21, 0.27, 0.31]],
	[0.48, [-0.31, -0.26, -0.2, -0.15, -0.1, -0.05, 0.0, 0.05, 0.1, 0.14, 0.19, 0.25, 0.3]],
	[0.5, [-0.3, -0.25, -0.2, -0.14, -0.09, -0.04, 0.01, 0.07, 0.11, 0.16, 0.22, 0.27, 0.32]],
	[0.51, [-0.32, -0.27, -0.22, -0.17, -0.12, -0.06, -0.01, 0.05, 0.09, 0.14, 0.2, 0.25, 0.3]],
	[0.52, [-0.29, -0.23, -0.18, -0.13, -0.07, -0.02, 0.04, 0.09, 0.13, 0.18, 0.24, 0.29]],
	[0.54, [-0.32, -0.27, -0.22, -0.16, -0.11, -0.06, -0.01, 0.04, 0.1, 0.15, 0.2, 0.25, 0.3]],
	[0.55, [-0.3, -0.25, -0.19, -0.13, -0.08, -0.03, 0.03, 0.08, 0.13, 0.18, 0.23, 0.28, 0.33]],
	[0.56, [-0.31, -0.25, -0.2, -0.14, -0.09, -0.04, 0.02, 0.06, 0.11, 0.16, 0.22, 0.27, 0.32]],
	[0.58, [-0.3, -0.24, -0.19, -0.14, -0.08, -0.03, 0.02, 0.07, 0.13, 0.18, 0.23, 0.28, 0.34]],
	[0.59, [-0.32, -0.27, -0.22, -0.17, -0.11, -0.06, -0.01, 0.05, 0.1, 0.15, 0.2, 0.26, 0.31]],
	[0.6, [-0.31, -0.26, -0.21, -0.15, -0.1, -0.05, 0.0, 0.05, 0.11, 0.16, 0.21, 0.26, 0.32]],
	[0.62, [-0.33, -0.28, -0.23, -0.17, -0.12, -0.07, -0.02, 0.03, 0.09, 0.14, 0.19, 0.24, 0.3]],
	[0.63, [-0.31, -0.26, -0.2, -0.15, -0.1, -0.05, 0.0, 0.06, 0.11, 0.16, 0.21, 0.27, 0.32]],
	[0.64, [-0.3, -0.25, -0.19, -0.14, -0.09, -0.04, 0.01, 0.06, 0.11, 0.17, 0.22, 0.28]],
	[0.66, [-0.31, -0.26, -0.2, -0.15, -0.1, -0.05, 0.01, 0.06, 0.11, 0.16, 0.22, 0.27, 0.36]],
	[0.67, [-0.33, -0.28, -0.22, -0.17, -0.12, -0.07, -0.02, 0.04, 0.09, 0.14, 0.2, 0.25, 0.3]],
	[0.68, [-0.3, -0.24, -0.19, -0.14, -0.09, -0.03, 0.02, 0.07, 0.12, 0.18, 0.23, 0.28, 0.33]],
	[0.7, [-0.33, -0.27, -0.22, -0.17, -0.12, -0.07, -0.01, 0.04, 0.09, 0.15, 0.2, 0.25, 0.31]],
	[0.71, [-0.3, -0.24, -0.19, -0.14, -0.09, -0.04, 0.02, 0.07, 0.12, 0.17, 0.22, 0.28, 0.33]],
	[0.72, [-0.31, -0.27, -0.22, -0.16, -0.11, -0.06, 0.0, 0.05, 0.1, 0.15, 0.2, 0.26, 0.3]],
	[0.74, [-0.3, -0.25, -0.2, -0.14, -0.09, -0.04, 0.02, 0.07, 0.12, 0.17, 0.23, 0.28, 0.33]],
	[0.75, [-0.32, -0.27, -0.22, -0.17, -0.12, -0.06, -0.01, 0.04, 0.1, 0.15, 0.2, 0.25, 0.31]],
	[0.76, [-0.29, -0.23, -0.18, -0.13, -0.07, -0.02, 0.03, 0.08, 0.14, 0.19, 0.24, 0.3]],
	[0.78, [-0.32, -0.26, -0.21, -0.16, -0.11, -0.05, 0.0, 0.05, 0.1, 0.16, 0.21, 0.26, 0.32]],
	[0.79, [-0.3, -0.24, -0.18, -0.13, -0.08, -0.03, 0.03, 0.08, 0.13, 0.19, 0.24, 0.3]],
	[0.8, [-0.3, -0.25, -0.2, -0.15, -0.1, -0.05, 0.01, 0.06, 0.12, 0.17, 0.22, 0.28, 0.33]],
	[0.82, [-0.29, -0.24, -0.19, -0.13, -0.08, -0.03, 0.03, 0.08, 0.13, 0.18, 0.24, 0.3]],
	[0.83, [-0.31, -0.26, -0.21, -0.16, -0.1, -0.05, 0.0, 0.06, 0.11, 0.16, 0.21, 0.27, 0.32]],
	[0.84, [-0.27, -0.22, -0.17, -0.11, -0.06, -0.01, 0.04, 0.1, 0.15, 0.2, 0.26, 0.31]],
	[0.86, [-0.3, -0.25, -0.2, -0.15, -0.1, -0.04, 0.01, 0.06, 0.11, 0.17, 0.22, 0.28, 0.34]],
	[0.87, [-0.27, -0.22, -0.17, -0.12, -0.07, -0.01, 0.04, 0.09, 0.14, 0.2, 0.25, 0.3]],
	[0.88, [-0.28, -0.23, -0.17, -0.12, -0.07, -0.02, 0.03, 0.08, 0.13, 0.19, 0.25, 0.3]],
	[0.9, [-0.26, -0.21, -0.16, -0.11, -0.06, 0.0, 0.05, 0.1, 0.15, 0.2, 0.26, 0.31]],
	[0.91, [-0.24, -0.19, -0.13, -0.08, -0.03, 0.03, 0.08, 0.13, 0.18, 0.24, 0.29]],
	[0.92, [-0.22, -0.16, -0.1, -0.04, 0.02, 0.07, 0.12, 0.17, 0.23]],
	[0.94, [-0.24, -0.18, -0.12, -0.07, -0.02, 0.03, 0.08, 0.14, 0.19, 0.25]],
	[0.95, [-0.2, -0.14, -0.09, -0.04, 0.01, 0.06, 0.11, 0.16, 0.22]],
	[0.96, [-0.16, -0.1, -0.04, 0.02, 0.08, 0.13, 0.19]],
	[0.98, [-0.2, -0.13, -0.07, -0.01, 0.05, 0.1, 0.16, 0.22]],
	[1.02, [-0.12, -0.04, 0.04, 0.12, 0.2]],
	[1.06, [-0.08, 0.02, 0.1]],
	[1.1, [-0.04, 0.06]]
];
var residBand = 0.38;

// histogram of residuals
var binEdges = [-1.2, -1.0, -0.8, -0.6, -0.4, -0.2, 0.0, 0.2, 0.4, 0.6, 0.8, 1.0];
var binCounts = [1, 0, 2, 14, 87, 364, 327, 100, 14, 3, 2];

// axis ticks
var magTicks = [2, 3, 4, 5, 6, 7];
var distTicks = [0, 50, 100, 150, 200, 250];
var gammaTicks = [-0.4, -0.2, 0.0, 0.2, 0.4, 0.6];
var tauTicks = [-0.5, 0.0, 0.5, 1.0, 1.5];
var predTicks = [0.0, 0.5, 1.0];
var residTicks = [-1.5, -1.0, -0.5, 0.0, 0.5, 1.0, 1.5];
var residTickLabels = [-1.5, -0.5, 0.5, 1.5];
var histXTicks = [-1.0, -0.5, 0.0, 0.5, 1.0];
var histYTicks = [0, 100, 200, 300];

var SANS = '"Liberation Sans", Arial, Helvetica, sans-serif';
var SERIF = '"Liberation Serif", "DejaVu Serif", serif';
var PAGE_W = 997, PAGE_H = 1321, Y_W = 30, X_H = 50;
var TITLE = 'bold 23px ' + SANS;
var LAB = '19px ' + SANS;
var GREEK = '31px ' + SERIF;
var GREEK_B = 'bold 33px ' + SERIF;

Chart.defaults.font.family = SANS;

function fmt1(v) { return (v < 0 ? '\u2212' : '') + Math.abs(v).toFixed(1); }
function fmt0(v) { return String(v); }

function pairs(list) {
	return list.map(function(p) { return {x: p[0], y: p[1]}; });
}
function fromCols(cols) {
	var out = [];
	cols.forEach(function(c) {
		c[1].forEach(function(v) { out.push({x: c[0], y: v}); });
	});
	return out;
}

function circles(data) {
	return {
		data: data,
		pointStyle: 'circle',
		pointRadius: 4.6,
		pointBorderWidth: 1.5,
		pointBorderColor: '#000',
		pointBackgroundColor: 'rgba(0,0,0,0)'
	};
}

function hLine(y, x0, x1, dash) {
	return {
		type: 'line',
		data: [{x: x0, y: y}, {x: x1, y: y}],
		borderColor: '#000',
		borderWidth: 1.4,
		borderDash: dash || [],
		pointRadius: 0,
		fill: false,
		tension: 0
	};
}

function axis(min, max, ticks, fmt, horizontal, border) {
	var s = {
		type: 'linear',
		min: min,
		max: max,
		offset: false,
		afterBuildTicks: function(sc) {
			sc.ticks = ticks.map(function(v) { return {value: v}; });
		},
		grid: {drawOnChartArea: false, drawTicks: true, tickLength: 12, color: '#000', tickColor: '#000', lineWidth: 1.3, offset: false},
		border: {display: border !== false, color: '#000', width: 1.3}
	};
	if (horizontal) {
		s.position = 'bottom';
		s.afterFit = function(sc) { sc.height = X_H; };
		s.ticks = {color: '#000', font: {family: SANS, size: 19}, padding: 10, maxRotation: 0, autoSkip: false,
			callback: function(v) { return fmt(v); }};
	} else {
		s.position = 'left';
		s.afterFit = function(sc) { sc.width = Y_W; };
		s.ticks = {display: false};
	}
	return s;
}

// box, rotated y labels, titles and axis captions in base-graphics style
var rFrame = {
	id: 'rFrame',
	afterDraw: function(chart, args, o) {
		var ctx = chart.ctx, a = chart.chartArea;
		var xs = chart.scales.x, ys = chart.scales.y;
		ctx.save();
		ctx.strokeStyle = '#000';
		ctx.lineWidth = 1.3;
		if (o.box) {
			ctx.strokeRect(a.left, a.top, a.right - a.left, a.bottom - a.top);
		}
		if (o.axisLines) {
			ctx.beginPath();
			ctx.moveTo(xs.getPixelForValue(o.axisLines.x[0]), a.bottom);
			ctx.lineTo(xs.getPixelForValue(o.axisLines.x[1]), a.bottom);
			ctx.moveTo(a.left, ys.getPixelForValue(o.axisLines.y[0]));
			ctx.lineTo(a.left, ys.getPixelForValue(o.axisLines.y[1]));
			ctx.stroke();
		}
		ctx.fillStyle = '#000';
		ctx.font = LAB;
		ctx.textAlign = 'center';
		ctx.textBaseline = 'middle';
		o.yLabels.forEach(function(v) {
			ctx.save();
			ctx.translate(a.left - 32, ys.getPixelForValue(v));
			ctx.rotate(-Math.PI / 2);
			ctx.fillText(o.yFmt(v), 0, 0);
			ctx.restore();
		});
		o.texts.forEach(function(t) {
			ctx.save();
			ctx.font = t.f;
			ctx.textAlign = t.a || 'center';
			ctx.textBaseline = t.r ? 'middle' : 'alphabetic';
			ctx.translate(t.x, t.y);
			if (t.r) ctx.rotate(-Math.PI / 2);
			ctx.fillText(t.s, 0, 0);
			ctx.restore();
		});
		ctx.restore();
	}
};

function draw(id, type, datasets, box, xs, ys, frame) {
	return new Chart(document.getElementById(id), {
		type: type,
		data: {datasets: datasets},
		options: {
			responsive: false,
			animation: false,
			devicePixelRatio: 1,
			events: [],
			layout: {padding: {left: box[0] - Y_W, top: box[1], right: PAGE_W - box[2], bottom: PAGE_H - box[3] - X_H}},
			scales: {x: xs, y: ys},
			plugins: {legend: {display: false}, tooltip: {enabled: false}, rFrame: frame}
		},
		plugins: [rFrame]
	});
}

// tau vs magnitude
draw('magChart', 'scatter', [circles(fromCols(magCols))], [95, 65, 473, 315],
	axis(1.745, 7.514, magTicks, fmt0, true), axis(-0.577, 1.571, tauTicks),
	{box: true, yLabels: tauTicks, yFmt: fmt1, texts: [
		{s: 'S\u2212wave decay', f: TITLE, x: 248, y: 28, a: 'right'},
		{s: '\u03C4', f: GREEK, x: 279, y: 28},
		{s: 'vs Magnitude', f: TITLE, x: 474, y: 28, a: 'right'},
		{s: 'Magnitude', f: LAB, x: 284, y: 403},
		{s: '\u03C4', f: GREEK_B, x: 23, y: 190, r: true}
	]});

// tau vs distance
draw('distChart', 'scatter', [circles(pairs(distPts))], [614, 65, 992, 315],
	axis(-10, 259.6, distTicks, fmt0, true), axis(-0.577, 1.571, tauTicks),
	{box: true, yLabels: tauTicks, yFmt: fmt1, texts: [
		{s: 'S\u2212wave decay', f: TITLE, x: 776, y: 28, a: 'right'},
		{s: '\u03C4', f: GREEK, x: 813, y: 28},
		{s: 'vs distance', f: TITLE, x: 984, y: 28, a: 'right'},
		{s: 'distance (km)', f: LAB, x: 803, y: 403},
		{s: '\u03C4', f: GREEK_B, x: 543, y: 190, r: true}
	]});

// tau vs gamma
draw('gammaChart', 'scatter', [circles(pairs(gammaPts).concat(fromCols(gammaCore)))], [95, 524, 473, 773],
	axis(-0.493, 0.642, gammaTicks, fmt1, true), axis(-0.575, 1.569, tauTicks),
	{box: true, yLabels: tauTicks, yFmt: fmt1, texts: [
		{s: 'S\u2212wave decay params', f: TITLE, x: 327, y: 487, a: 'right'},
		{s: '\u03C4,\u03B3', f: GREEK, x: 343, y: 487, a: 'left'},
		{s: '\u03B3', f: '33px ' + SERIF, x: 295, y: 852},
		{s: '\u03C4', f: GREEK_B, x: 23, y: 648, r: true}
	]});

// residuals vs predicted
draw('residChart', 'scatter', [
		circles(pairs(residPts).concat(pairs(residLeft), fromCols(residCols))),
		hLine(0, -1, 2),
		hLine(residBand, -1, 2, [12, 8]),
		hLine(-residBand, -1, 2, [12, 8])
	], [614, 524, 992, 773],
	axis(-0.431, 1.449, predTicks, fmt1, true), axis(-1.617, 1.617, residTicks),
	{box: true, yLabels: residTickLabels, yFmt: fmt1, texts: [
		{s: 'residuals vs predicted values', f: TITLE, x: 803, y: 487},
		{s: 'predicted decay par.', f: LAB, x: 655, y: 864, a: 'left'},
		{s: '\u03C4', f: 'bold 29px ' + SERIF, x: 850, y: 864},
		{s: '(S\u2212wave)', f: LAB, x: 948, y: 864, a: 'right'},
		{s: 'residuals', f: LAB, x: 538, y: 648, r: true}
	]});

// histogram
var histData = binCounts.map(function(c, i) {
	return {x: (binEdges[i] + binEdges[i + 1]) / 2, y: c};
});
draw('histChart', 'bar', [
		{
			data: histData,
			backgroundColor: 'rgba(0,0,0,0)',
			borderColor: '#000',
			borderWidth: {top: 1.4, left: 0.9, right: 0.9, bottom: 0},
			borderSkipped: false,
			inflateAmount: 0,
			barPercentage: 1,
			categoryPercentage: 1
		},
		hLine(0, binEdges[0], binEdges[binEdges.length - 1])
	], [95, 983, 473, 1231],
	axis(-1.288, 1.088, histXTicks, fmt1, true, false), axis(-13.7, 378, histYTicks, null, false, false),
	{box: false, axisLines: {x: [histXTicks[0], histXTicks[histXTicks.length - 1]], y: [histYTicks[0], histYTicks[histYTicks.length - 1]]},
		yLabels: histYTicks, yFmt: fmt0, texts: [
		{s: 'histogram of residuals', f: TITLE, x: 284, y: 946},
		{s: 'residuals', f: LAB, x: 284, y: 1316},
		{s: 'number of occurrences', f: LAB, x: 17, y: 1107, r: true}
	]});
</script>
</body>
</html>
